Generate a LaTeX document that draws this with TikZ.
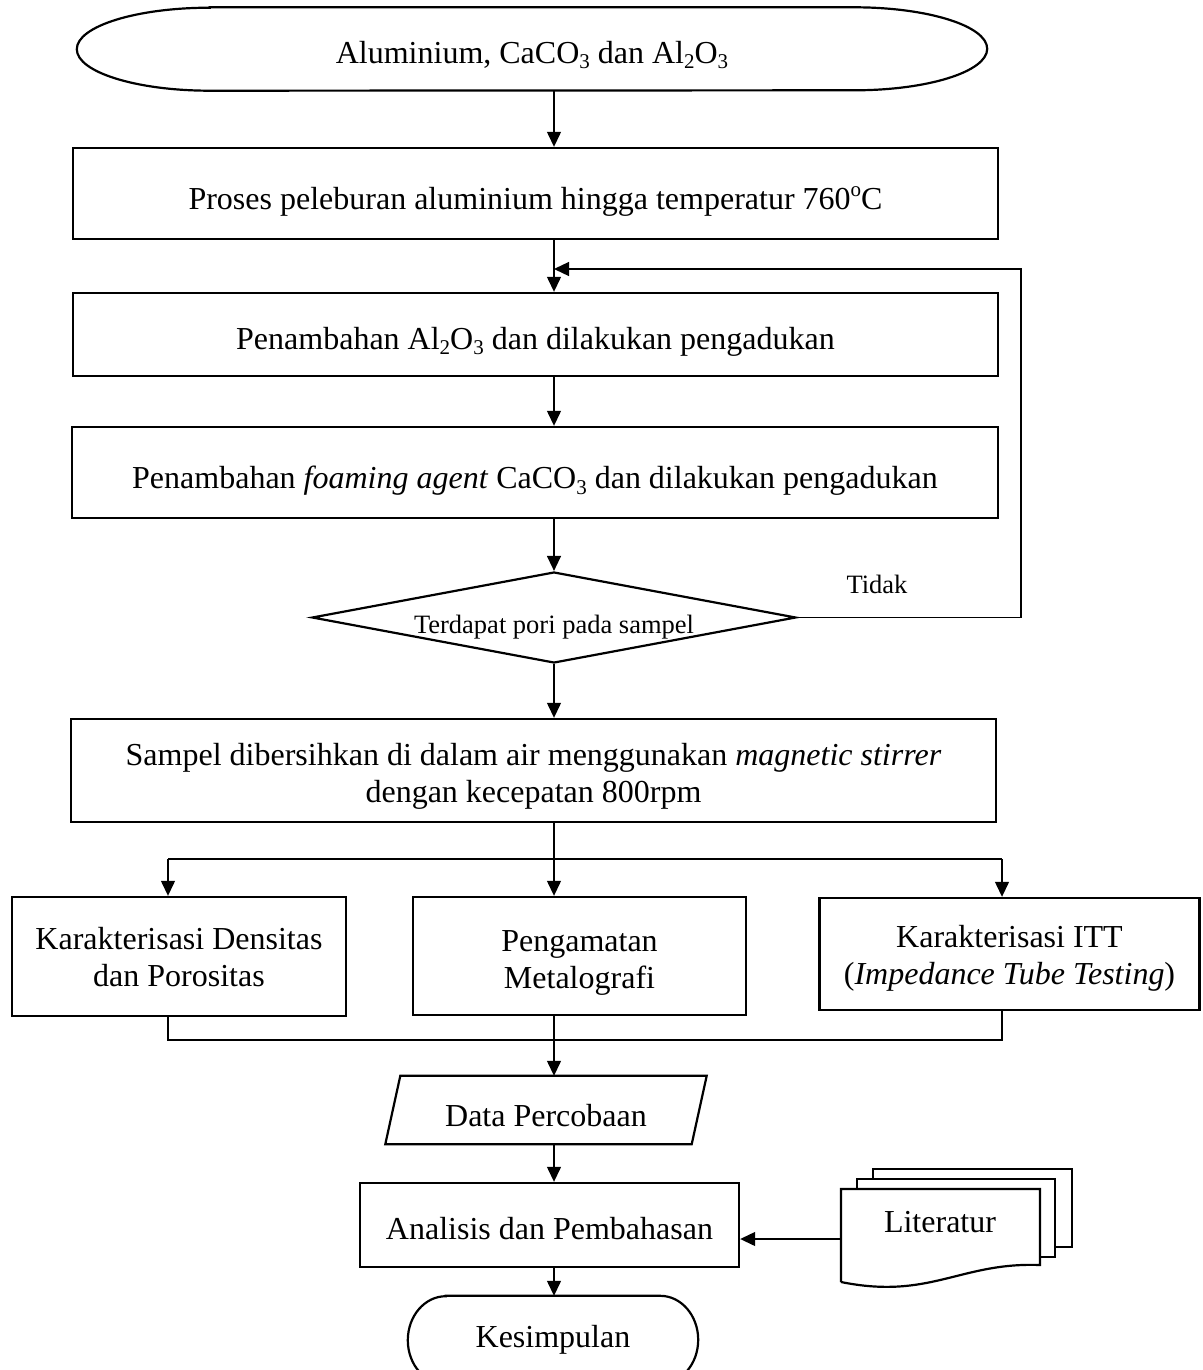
\documentclass[tikz,border=0pt]{standalone}
\usepackage{fontspec}
\setmainfont{Liberation Serif}
\usetikzlibrary{arrows.meta,shapes.geometric,calc}
\newcommand{\sbs}[1]{\raisebox{-0.18em}{\fontsize{21}{21}\selectfont #1}}
\newcommand{\sps}[1]{\raisebox{0.42em}{\fontsize{21}{21}\selectfont #1}}
\newcommand{\dn}[2]{\raisebox{-#1}[\height][\depth]{#2}}
\newcommand{\twol}[2]{\begin{tabular}{@{}c@{}}#1\\#2\end{tabular}}
\begin{document}
\begin{tikzpicture}[x=1pt,y=-1pt,
  txt/.style={font=\fontsize{32}{37}\selectfont, align=center, inner sep=0pt},
  procbox/.style={draw, line width=2.4pt, txt},
  hidden/.style={txt},
  shapeline/.style={line width=2.2pt},
  conn/.style={line width=1.3pt},
  arr/.style={conn, -{Triangle[length=15pt,width=14pt]}}]
\useasboundingbox (0,0) rectangle (1202,1370);
\clip (0,0) rectangle (1202,1370);
\fill[white] (0,0) rectangle (1202,1370);
\coordinate (spine) at (554,0);

% start terminal
\node[hidden, minimum width=910pt, minimum height=83pt] (start) at (532,49)
  {\dn{6pt}{Aluminium, CaCO\sbs{3} dan Al\sbs{2}O\sbs{3}}};
\draw[shapeline] ([xshift=133pt]start.north west) -- ([xshift=-133pt]start.north east)
  arc[start angle=90,end angle=-90,x radius=133pt,y radius=41.5pt]
  -- ([xshift=133pt]start.south west)
  arc[start angle=270,end angle=90,x radius=133pt,y radius=41.5pt] -- cycle;

\node[procbox, minimum width=925pt, minimum height=91pt] (p1) at (535.5,193.5)
  {\dn{8pt}{Proses peleburan aluminium hingga temperatur 760\sps{o}C}};
\node[procbox, minimum width=925pt, minimum height=83pt] (p2) at (535.5,334.5)
  {\dn{7pt}{Penambahan Al\sbs{2}O\sbs{3} dan dilakukan pengadukan}};
\node[procbox, minimum width=926pt, minimum height=91pt] (p3) at (535,472.5)
  {\dn{8pt}{Penambahan \textit{foaming agent} CaCO\sbs{3} dan dilakukan pengadukan}};

\node[draw, shapeline, diamond, minimum width=484pt, minimum height=91pt, inner sep=0pt] (dec) at (554,617.5) {};
\node[inner sep=0pt, font=\fontsize{26.5}{30}\selectfont] (dect) at (554,627) {Terdapat pori pada sampel};
\node[inner sep=0pt, font=\fontsize{26.5}{30}\selectfont] (tidak) at (877,584) {Tidak};

\node[procbox, minimum width=925pt, minimum height=103pt] (p4) at (533.5,770.5)
  {\dn{6pt}{\twol{Sampel dibersihkan di dalam air menggunakan \textit{magnetic stirrer}}{dengan kecepatan 800rpm}}};

\node[procbox, minimum width=334pt, minimum height=119pt] (b5) at (179,956.5)
  {\dn{4pt}{\twol{Karakterisasi Densitas}{dan Porositas}}};
\node[procbox, minimum width=333pt, minimum height=118pt] (b6) at (579.5,956)
  {\dn{7pt}{\twol{Pengamatan}{Metalografi}}};
\node[procbox, minimum width=380pt, minimum height=112pt] (b7) at (1009.5,954)
  {\dn{5pt}{\twol{Karakterisasi ITT}{(\textit{Impedance Tube Testing})}}};

% data (parallelogram)
\node[hidden, minimum width=306pt, minimum height=68pt] (data) at (546,1110) {\dn{6pt}{Data Percobaan}};
\draw[shapeline] ([xshift=7.5pt]data.north west) -- ([xshift=7.5pt]data.north east)
  -- ([xshift=-7.5pt]data.south east) -- ([xshift=-7.5pt]data.south west) -- cycle;

\node[procbox, minimum width=379pt, minimum height=84pt] (ana) at (549.5,1225)
  {\dn{4pt}{Analisis dan Pembahasan}};

% Kesimpulan terminal
\node[hidden, minimum width=290pt, minimum height=88pt] (kes) at (553,1340) {Kesimpulan};
\draw[shapeline] ([xshift=38pt]kes.north west) -- ([xshift=-38pt]kes.north east)
  arc[start angle=90,end angle=-90,x radius=38pt,y radius=44pt]
  -- ([xshift=38pt]kes.south west)
  arc[start angle=270,end angle=90,x radius=38pt,y radius=44pt] -- cycle;

% Literatur (multi-document)
\draw[shapeline, fill=white] (873,1179) -- (873,1169) -- (1072,1169) -- (1072,1247) -- (1055,1247);
\draw[shapeline, fill=white] (857,1189) -- (857,1179) -- (1055,1179) -- (1055,1257) -- (1040,1257);
\draw[shapeline, fill=white] (841,1282) -- (841,1189) -- (1040,1189) -- (1040,1265)
  .. controls (960,1262) and (930,1300) .. (841,1282);
\node[txt] (lit) at (940,1222) {Literatur};
\coordinate (litw) at (841,1239);

% connectors
\draw[arr] (start.south -| spine) -- (p1.north -| spine);
\draw[arr] (p1.south -| spine) -- (p2.north -| spine);
\draw[arr] (p2.south -| spine) -- (p3.north -| spine);
\draw[arr] (p3.south -| spine) -- (dec.north);
\coordinate (fb) at (1021,269);
\draw[arr] (dec.east) -| (fb) -- (fb -| spine);
\draw[arr] (dec.south) -- (p4.north -| spine);

\coordinate (brL) at (168,859);
\coordinate (brR) at (1002,859);
\draw[conn] (p4.south -| spine) -- (spine |- brL);
\draw[conn] (brL) -- (brR);
\draw[arr] (brL) -- (brL |- b5.north);
\draw[arr] (spine |- brL) -- (spine |- b6.north);
\draw[arr] (brR) -- (brR |- b7.north);

\coordinate (mL) at (168,1040);
\coordinate (mR) at (1002,1040);
\draw[conn] (b5.south -| mL) -- (mL) -- (mR) -- (b7.south -| mR);
\draw[arr] (b6.south -| spine) -- (data.north -| spine);
\draw[arr] (data.south -| spine) -- (ana.north -| spine);
\draw[arr] (ana.south -| spine) -- (kes.north -| spine);
\draw[arr] (litw) -- (litw -| ana.east);
\end{tikzpicture}
\end{document}
